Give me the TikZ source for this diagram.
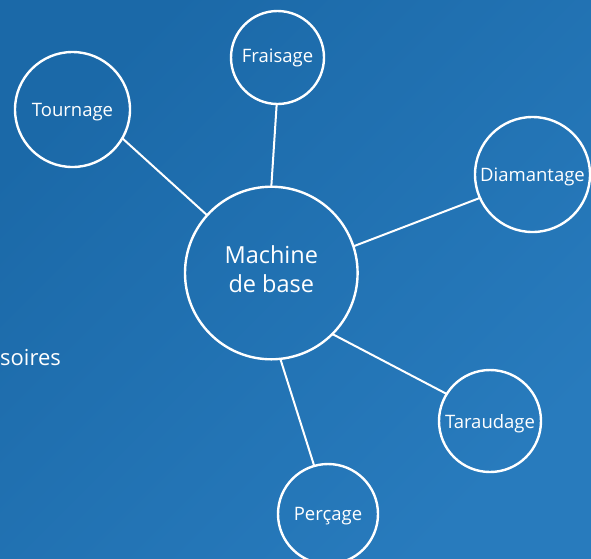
\documentclass[tikz,border=0pt]{standalone}
\usepackage{fontspec}
\setmainfont{Open Sans}
\definecolor{bgA}{HTML}{1B69A8}
\definecolor{bgB}{HTML}{287BBD}
\tikzset{
  bubble/.style={circle, draw=white, line width=2.4pt, inner sep=0pt, outer sep=0pt, text=white, align=center},
  sat/.style={bubble, font=\fontsize{18.5}{22}\selectfont, text depth=0pt},
  link/.style={draw=white, line width=2pt},
}
\begin{document}
\begin{tikzpicture}[x=1pt,y=-1pt]
\shade[left color=bgA, right color=bgB, shading angle=45] (0,0) rectangle (591,558);
\useasboundingbox (0,0) rectangle (591,558);
\node[bubble, minimum size=172.6pt, text depth=8pt, font=\fontsize{23.5}{28.7}\selectfont] (main) at (271.3,273) {Machine\\de base};
\node[sat, minimum size=115pt] (tour) at (72.5,109.5) {Tournage};
\node[sat, minimum size=93pt, text depth=4.5pt] (frai) at (277.5,57.5) {Fraisage};
\node[sat, minimum size=115pt] (diam) at (532.5,174.5) {Diamantage};
\node[sat, minimum size=102pt] (tara) at (490,421) {Taraudage};
\node[sat, minimum size=100pt] (perc) at (328,514) {Perçage};
\node[anchor=base west, inner sep=0pt, text=white, font=\fontsize{22}{26}\selectfont] (acc) at (0,365) {soires};
\draw[link] (main.138.8) -- (tour.-30);
\draw[link] (main.90.2) -- (frai.-91.8);
\draw[link] (main.18.5) -- (diam.-156.8);
\draw[link] (main.-45.8) -- (tara.148.5);
\draw[link] (main.-84.4) -- (perc.106.2);
\end{tikzpicture}
\end{document}
